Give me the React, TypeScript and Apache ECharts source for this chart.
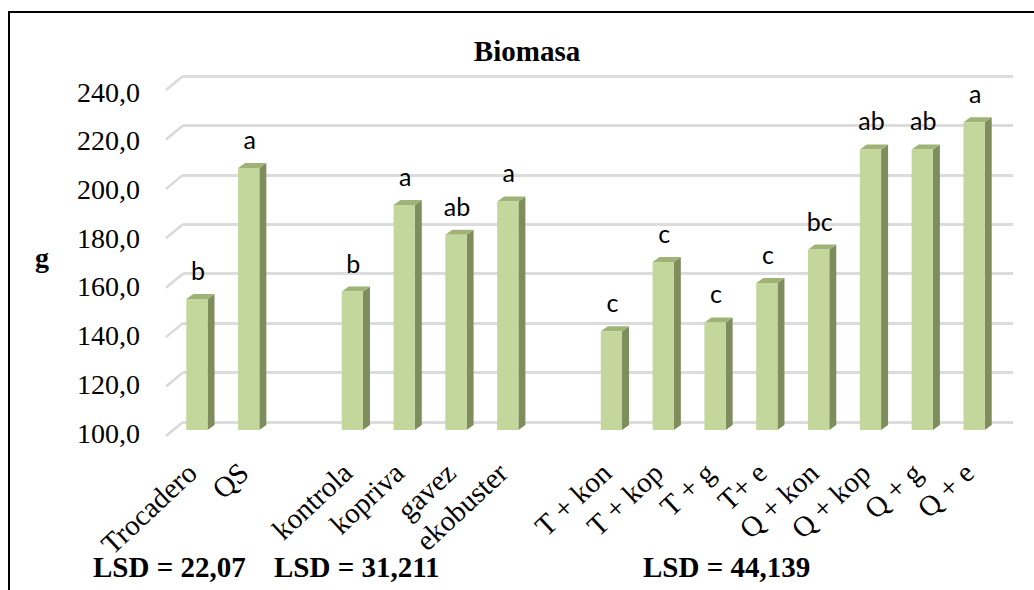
import React, { useEffect, useRef } from "react";
import * as echarts from "echarts";

const categories = [
  "Trocadero", "QS", "",
  "kontrola", "kopriva", "gavez", "ekobuster", "",
  "T + kon", "T + kop", "T + g", "T+ e", "Q + kon", "Q + kop", "Q + g", "Q + e",
];
const biomass: (number | null)[] = [
  153, 206, null,
  156, 191, 179, 192.5, null,
  140, 168, 143.5, 159.5, 173, 213.5, 213.5, 224.5,
];
const letters = [
  "b", "a", "",
  "b", "a", "ab", "a", "",
  "c", "c", "c", "c", "bc", "ab", "ab", "a",
];
const yTicks = [100, 120, 140, 160, 180, 200, 220, 240];
const lsdLabels = ["LSD = 22,07", "LSD = 31,211", "LSD = 44,139"];
const chartTitle = "Biomasa";
const yTitle = "g";

const SERIF = "Liberation Serif";
const SANS = "Lato";

export default function App() {
  const ref = useRef<HTMLDivElement>(null);
  useEffect(() => {
    if (!ref.current) return;
    const chart = echarts.init(ref.current, undefined, { renderer: "svg" });
    const yMin = yTicks[0];
    const yMax = yTicks[yTicks.length - 1];
    const barData = biomass
      .map((v, i) => (v == null ? null : [i, v]))
      .filter((d) => d != null);

    const lsdX = [93, 274, 643];

    const option: any = {
      animation: false,
      backgroundColor: "#ffffff",
      grid: [
        { left: 171, right: 34, top: 84, bottom: 160 },
        { left: 183, right: 21, top: 76, bottom: 168 },
        { left: 166, right: 21, top: 92, bottom: 157 },
        { left: 166, right: 39, top: 84, bottom: 160 },
      ],
      xAxis: [
        { gridIndex: 0, type: "category", data: categories, show: false },
        { gridIndex: 1, type: "value", min: 0, max: 1, show: false },
        { gridIndex: 2, type: "value", min: 0, max: 1, show: false },
        {
          gridIndex: 3,
          type: "category",
          data: categories,
          axisLine: { show: false },
          axisTick: { show: false },
          splitLine: { show: false },
          axisLabel: {
            interval: 0,
            rotate: 43,
            margin: 38,
            color: "#000",
            fontFamily: SERIF,
            fontSize: 29,
          },
        },
      ],
      yAxis: [
        { gridIndex: 0, type: "value", min: yMin, max: yMax, interval: 20, show: false },
        {
          gridIndex: 1,
          type: "value",
          min: yMin,
          max: yMax,
          interval: 20,
          axisLine: { show: false },
          axisTick: { show: false },
          axisLabel: { show: false },
          splitLine: { show: true, lineStyle: { color: "#dcdcdc", width: 3 } },
        },
        {
          gridIndex: 2,
          type: "value",
          min: yMin,
          max: yMax,
          interval: 20,
          axisLine: { show: false },
          axisTick: { show: false },
          splitLine: { show: false },
          axisLabel: {
            margin: 26,
            color: "#000",
            fontFamily: SERIF,
            fontSize: 28,
            formatter: (v: number) => v.toFixed(1).replace(".", ","),
          },
        },
        { gridIndex: 3, type: "value", min: yMin, max: yMax, interval: 20, show: false },
      ],
      series: [
        {
          type: "custom",
          xAxisIndex: 1,
          yAxisIndex: 1,
          z: 1,
          clip: false,
          data: yTicks.map((v) => [0, v]),
          renderItem: (params: any, api: any) => {
            const p = api.coord([0, api.value(1)]);
            return {
              type: "line",
              shape: { x1: p[0] - 17, y1: p[1] + 14, x2: p[0], y2: p[1] },
              style: { stroke: "#d9d9d9", lineWidth: 2.5 },
            };
          },
        },
        {
          type: "custom",
          xAxisIndex: 0,
          yAxisIndex: 0,
          z: 5,
          clip: false,
          data: barData,
          renderItem: (params: any, api: any) => {
            const i = api.value(0);
            const v = api.value(1);
            const base = api.coord([i, yMin]);
            const top = api.coord([i, v]);
            const slot = api.size([1, 0])[0];
            const w = slot * 0.41;
            const dx = 7;
            const dy = 5;
            const l = base[0] - w / 2;
            const r = base[0] + w / 2;
            const t = top[1];
            const b = base[1];
            return {
              type: "group",
              children: [
                {
                  type: "polygon",
                  shape: { points: [[r, t], [r + dx, t - dy], [r + dx, b - dy], [r, b]] },
                  style: { fill: "#7f8d5c" },
                },
                {
                  type: "polygon",
                  shape: { points: [[l, t], [l + dx, t - dy], [r + dx, t - dy], [r, t]] },
                  style: { fill: "#a0b377" },
                },
                {
                  type: "rect",
                  shape: { x: l, y: t, width: w, height: b - t },
                  style: { fill: "#c3d69b" },
                },
                {
                  type: "text",
                  x: base[0] + 1,
                  y: t - 29,
                  style: {
                    text: letters[i],
                    fill: "#000",
                    fontFamily: SANS,
                    fontSize: 25,
                    align: "center",
                    verticalAlign: "middle",
                    textAlign: "center",
                    textVerticalAlign: "middle",
                  },
                },
              ],
            };
          },
        },
      ],
      graphic: [
        {
          type: "rect",
          shape: { x: 9, y: 12, width: 1100, height: 700 },
          style: { fill: "none", stroke: "#000", lineWidth: 2 },
          z: 0,
        },
        {
          type: "text",
          x: 527,
          y: 51,
          style: {
            text: chartTitle,
            fill: "#000",
            fontFamily: SERIF,
            fontWeight: "bold",
            fontSize: 29,
            align: "center",
            verticalAlign: "middle",
            textAlign: "center",
            textVerticalAlign: "middle",
          },
        },
        {
          type: "text",
          x: 42,
          y: 257,
          style: {
            text: yTitle,
            fill: "#000",
            fontFamily: SERIF,
            fontWeight: "bold",
            fontSize: 28,
            align: "center",
            verticalAlign: "middle",
            textAlign: "center",
            textVerticalAlign: "middle",
          },
        },
        ...lsdLabels.map((t, k) => ({
          type: "text",
          x: lsdX[k],
          y: 567,
          style: {
            text: t,
            fill: "#000",
            fontFamily: SERIF,
            fontWeight: "bold",
            fontSize: 29,
            align: "left",
            verticalAlign: "middle",
            textAlign: "left",
            textVerticalAlign: "middle",
          },
        })),
      ],
    };
    chart.setOption(option);
    return () => chart.dispose();
  }, []);
  return (
    <div
      ref={ref}
      style={{ position: "absolute", left: 0, top: 0, width: 1034, height: 590 }}
    />
  );
}
